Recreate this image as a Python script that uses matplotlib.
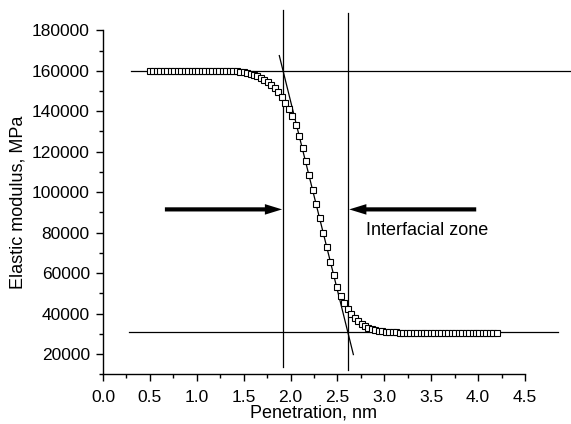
import matplotlib
matplotlib.use("Agg")
import matplotlib.pyplot as plt
from matplotlib.ticker import MultipleLocator

plt.rcParams['font.family'] = ['Liberation Sans', 'DejaVu Sans']

# penetration depth (nm) and elastic modulus (MPa)
penetration = [
    0.500, 0.537, 0.574, 0.611, 0.648, 0.685, 0.722, 0.759, 0.796, 0.833,
    0.870, 0.907, 0.944, 0.981, 1.018, 1.055, 1.092, 1.129, 1.166, 1.203,
    1.240, 1.277, 1.314, 1.351, 1.388, 1.425, 1.462, 1.499, 1.536, 1.573,
    1.610, 1.647, 1.684, 1.721, 1.758, 1.795, 1.832, 1.869, 1.906, 1.943,
    1.980, 2.017, 2.054, 2.091, 2.128, 2.165, 2.202, 2.239, 2.276, 2.313,
    2.350, 2.387, 2.424, 2.461, 2.498, 2.535, 2.572, 2.609, 2.646, 2.683,
    2.720, 2.757, 2.794, 2.831, 2.868, 2.905, 2.942, 2.979, 3.016, 3.053,
    3.090, 3.127, 3.164, 3.201, 3.238, 3.275, 3.312, 3.349, 3.386, 3.423,
    3.460, 3.497, 3.534, 3.571, 3.608, 3.645, 3.682, 3.719, 3.756, 3.793,
    3.830, 3.867, 3.904, 3.941, 3.978, 4.015, 4.052, 4.089, 4.126, 4.163,
    4.200,
]
modulus = [
    160000, 160000, 160000, 160000, 160000, 160000, 160000, 160000, 160000, 160000,
    160000, 160000, 160000, 160000, 160000, 160000, 160000, 160000, 160000, 160000,
    160000, 160000, 159950, 159900, 159800, 159700, 159500, 159300, 159000, 158500,
    157900, 157200, 156400, 155500, 154400, 153100, 151500, 149300, 147000, 144300,
    141200, 137500, 133100, 127900, 121900, 115300, 108400, 101300, 94200, 87000,
    79800, 72700, 65700, 59000, 53200, 48800, 45400, 42500, 40000, 37900,
    36200, 34900, 33800, 33000, 32400, 31900, 31500, 31200, 31000, 30850,
    30750, 30700, 30650, 30600, 30600, 30550, 30550, 30550, 30500, 30500,
    30500, 30500, 30500, 30500, 30500, 30500, 30500, 30500, 30500, 30500,
    30500, 30500, 30500, 30500, 30500, 30500, 30500, 30500, 30500, 30500,
    30500,
]

# construction lines
upper_level = 160000
upper_span = [0.30, 5.0]
lower_level = 31000
lower_span = [0.28, 4.85]
zone_start = 1.92
zone_start_span = [13800, 190000]
zone_end = 2.61
zone_end_span = [12200, 188500]
tangent_x = [1.88, 2.67]
tangent_y = [167500, 19750]

arrow_y = 91500
left_arrow = [0.66, 1.91]
right_arrow = [3.98, 2.625]

fig = plt.figure(figsize=(5.71, 4.24), dpi=100)
ax = fig.add_axes([0.1804, 0.1172, 0.739, 0.8113])

ax.plot(penetration, modulus, ls='none', marker='s', markersize=4.0,
        markerfacecolor='white', markeredgecolor='black', markeredgewidth=0.8,
        zorder=3)

line_kw = dict(color='black', lw=0.9, clip_on=False)
ax.plot(upper_span, [upper_level, upper_level], **line_kw)
ax.plot(lower_span, [lower_level, lower_level], **line_kw)
ax.plot([zone_start, zone_start], zone_start_span, **line_kw)
ax.plot([zone_end, zone_end], zone_end_span, **line_kw)
ax.plot(tangent_x, tangent_y, **line_kw)

arrow_kw = dict(arrowstyle='simple,head_length=0.62,head_width=0.38,tail_width=0.15',
                mutation_scale=20, lw=0, facecolor='black', edgecolor='none',
                shrinkA=0, shrinkB=0)
ax.annotate('', xy=(left_arrow[1], arrow_y), xytext=(left_arrow[0], arrow_y),
            arrowprops=arrow_kw)
ax.annotate('', xy=(right_arrow[1], arrow_y), xytext=(right_arrow[0], arrow_y),
            arrowprops=arrow_kw)
ax.text(2.80, 81000, 'Interfacial zone', fontsize=13, va='center', ha='left')

ax.set_xlim(0, 4.5)
ax.set_ylim(10000, 180000)
ax.xaxis.set_major_locator(MultipleLocator(0.5))
ax.xaxis.set_minor_locator(MultipleLocator(0.25))
ax.yaxis.set_major_locator(MultipleLocator(20000))
ax.yaxis.set_minor_locator(MultipleLocator(10000))
ax.set_yticks(range(20000, 180001, 20000))
ax.xaxis.set_major_formatter(plt.FormatStrFormatter('%.1f'))

ax.spines['top'].set_visible(False)
ax.spines['right'].set_visible(False)
for s in ('left', 'bottom'):
    ax.spines[s].set_linewidth(1.0)
ax.tick_params(which='major', direction='out', length=5, width=1.0, labelsize=12.5)
ax.tick_params(axis='x', which='major', pad=6)
ax.tick_params(axis='y', which='major', pad=4.5)
ax.tick_params(which='minor', direction='out', length=3, width=1.0)

ax.set_xlabel('Penetration, nm', fontsize=13, labelpad=0)
ax.set_ylabel('Elastic modulus, MPa', fontsize=13, labelpad=4)

fig.savefig('out.png', dpi=100)
